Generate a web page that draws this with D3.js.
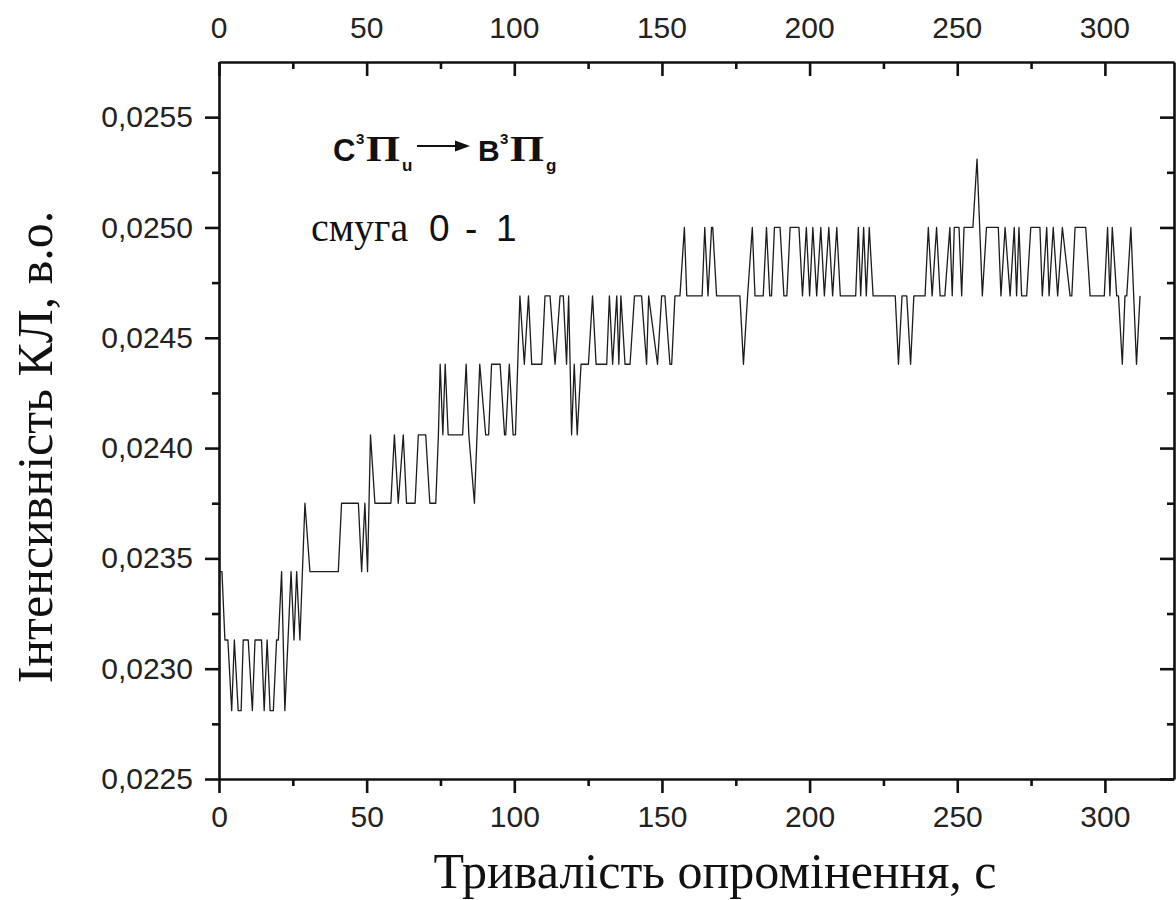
<!DOCTYPE html>
<html>
<head>
<meta charset="utf-8">
<script src="https://d3js.org/d3.v7.min.js"></script>
<style>
  body { margin: 0; background: #fff; }
  svg { display: block; }
</style>
</head>
<body>
<script>
// time points (s) where the trace changes
var timeSec = [
  0, 1, 2, 3, 4.3, 5.2, 6.5, 7.5, 8.2, 9.9, 11.3, 12.2, 14.4, 15.3, 16.3, 17.3, 18.4, 19.5, 20.1,
  21.2, 22.3, 24.4, 25.4, 26.3, 27.4, 29.1, 30.8, 40.4, 41.5, 47.2, 48.3, 49.4, 50.3, 51.3, 52.8,
  58.2, 59.4, 60.7, 62.4, 63.5, 66.4, 67.5, 70.0, 71.4, 73.4, 74.3, 74.9, 75.8, 76.6, 77.6, 82.5,
  83.7, 84.6, 86.5, 88.3, 90.3, 91.3, 92.3, 95.2, 96.7, 97.1, 98.3, 99.6, 100.4, 101.9, 103.4,
  104.8, 105.9, 109.3, 110.4, 112.1, 113.8, 115.5, 116.6, 117.7, 118.4, 119.4, 120.3, 121.3,
  122.6, 125.1, 126.5, 127.7, 131.3, 132.2, 133.3, 134.7, 135.4, 136.1, 137.5, 139.2, 140.7,
  143.1, 144.8, 145.5, 148.5, 149.9, 151.0, 152.7, 153.3, 154.4, 156.1, 157.6, 158.4, 163.6,
  164.5, 165.6, 166.8, 167.2, 168.5, 176.4, 177.6, 179.0, 180.6, 181.5, 184.3, 185.4, 186.5,
  187.1, 188.1, 190.0, 191.3, 192.3, 193.4, 196.4, 197.6, 198.9, 200.0, 201.1, 202.4, 203.8,
  205.0, 206.5, 207.8, 209.2, 210.4, 215.6, 216.5, 217.3, 218.3, 219.2, 220.2, 221.5, 229.0,
  230.1, 231.3, 232.9, 234.2, 235.3, 239.1, 240.2, 241.5, 243.0, 244.2, 245.8, 247.5, 248.3,
  249.0, 250.6, 251.5, 252.3, 255.3, 256.7, 258.5, 259.9, 263.9, 264.8, 266.2, 267.9, 269.3,
  270.1, 270.9, 271.8, 273.5, 274.9, 278.0, 278.8, 280.3, 281.1, 282.5, 284.0, 285.6, 288.2,
  288.8, 289.9, 293.5, 295.0, 299.8, 300.9, 301.7, 302.5, 304.0, 304.6, 305.9, 306.8, 307.4,
  308.8, 310.7, 311.9
];

// CL intensity (a.u.) at those points
var intensity = [
  0.02344, 0.02344, 0.02313, 0.02313, 0.02281, 0.02313, 0.02281, 0.02281, 0.02313, 0.02313,
  0.02281, 0.02313, 0.02313, 0.02281, 0.02313, 0.02281, 0.02281, 0.02313, 0.02313,
  0.02344, 0.02281, 0.02344, 0.02313, 0.02344, 0.02313, 0.02375, 0.02344, 0.02344, 0.02375,
  0.02375, 0.02344, 0.02375, 0.02344, 0.02406, 0.02375,
  0.02375, 0.02406, 0.02375, 0.02406, 0.02375, 0.02375, 0.02406, 0.02406, 0.02375, 0.02375,
  0.02406, 0.02438, 0.02406, 0.02438, 0.02406, 0.02406,
  0.02438, 0.02406, 0.02375, 0.02438, 0.02406, 0.02406, 0.02438, 0.02438, 0.02406, 0.02406,
  0.02438, 0.02406, 0.02406, 0.02469, 0.02438,
  0.02469, 0.02438, 0.02438, 0.02469, 0.02469, 0.02438, 0.02469, 0.02469, 0.02438, 0.02469,
  0.02406, 0.02438, 0.02406,
  0.02438, 0.02438, 0.02469, 0.02438, 0.02438, 0.02469, 0.02438, 0.02469, 0.02438, 0.02469,
  0.02438, 0.02438, 0.02469,
  0.02469, 0.02438, 0.02469, 0.02438, 0.02469, 0.02469, 0.02438, 0.02438, 0.02469, 0.02469,
  0.02500, 0.02469, 0.02469,
  0.02500, 0.02469, 0.02500, 0.02500, 0.02469, 0.02469, 0.02438, 0.02469, 0.02500, 0.02469,
  0.02469, 0.02500, 0.02469,
  0.02469, 0.02500, 0.02500, 0.02469, 0.02469, 0.02500, 0.02500, 0.02469, 0.02500, 0.02469,
  0.02500, 0.02469, 0.02500,
  0.02469, 0.02500, 0.02469, 0.02500, 0.02469, 0.02469, 0.02500, 0.02469, 0.02500, 0.02469,
  0.02500, 0.02469, 0.02469,
  0.02438, 0.02469, 0.02469, 0.02438, 0.02469, 0.02469, 0.02500, 0.02469, 0.02500, 0.02469,
  0.02469, 0.02500, 0.02469,
  0.02500, 0.02500, 0.02469, 0.02500, 0.02500, 0.02531, 0.02469, 0.02500, 0.02500, 0.02469,
  0.02500, 0.02469, 0.02500,
  0.02469, 0.02500, 0.02469, 0.02469, 0.02500, 0.02500, 0.02469, 0.02500, 0.02469, 0.02500,
  0.02469, 0.02500, 0.02469,
  0.02469, 0.02500, 0.02500, 0.02469, 0.02469, 0.02500, 0.02469, 0.02500, 0.02469, 0.02469,
  0.02438, 0.02469, 0.02469,
  0.02500, 0.02438, 0.02469
];

var xMajor = [0, 50, 100, 150, 200, 250, 300];
var xMinor = [25, 75, 125, 175, 225, 275];
var yMajor = [0.0225, 0.0230, 0.0235, 0.0240, 0.0245, 0.0250, 0.0255];
var yMinor = [0.02275, 0.02325, 0.02375, 0.02425, 0.02475, 0.02525];

var xTitle = "Тривалість опромінення, с";
var yTitle = "Інтенсивність КЛ, в.о.";

var W = 1176, H = 900;
var padL = 219, padR = 1174, padT = 62, padB = 779;

var svg = d3.select("body").append("svg")
  .attr("width", W)
  .attr("height", H);

var x = d3.scaleLinear().domain([0, 323.4]).range([padL, padR]);
var y = d3.scaleLinear().domain([0.0225, 0.02575]).range([padB, padT]);

var uk = d3.formatLocale({ decimal: ",", thousands: " ", grouping: [3], currency: ["", ""] });
var fmtY = uk.format(".4f");

var sans = "'Liberation Sans', Arial, sans-serif";
var serif = "'Liberation Serif', 'Times New Roman', serif";

// data trace
var pts = timeSec.map(function (t, i) { return { t: t, v: intensity[i] }; });
svg.append("path")
  .datum(pts)
  .attr("fill", "none")
  .attr("stroke", "#1c1c1c")
  .attr("stroke-width", 1.3)
  .attr("stroke-linejoin", "round")
  .attr("d", d3.line().x(function (d) { return x(d.t); }).y(function (d) { return y(d.v); }));

// axes: bottom/left ticks point out, top/right ticks point in
function styleAxis(g) {
  g.select(".domain").attr("stroke", "#111").attr("stroke-width", 2.6);
  g.selectAll(".tick line").attr("stroke", "#111").attr("stroke-width", 2.6);
  g.selectAll(".tick text").attr("fill", "#222")
    .style("font-family", sans).style("font-size", "30px");
}

function addAxis(axisFn, scale, major, minor, transform, labels, pad) {
  var gMin = svg.append("g").attr("transform", transform)
    .call(axisFn(scale).tickValues(minor).tickSize(7).tickFormat(""));
  styleAxis(gMin);
  gMin.select(".domain").remove();
  var gMaj = svg.append("g").attr("transform", transform)
    .call(axisFn(scale).tickValues(major).tickSize(14).tickSizeOuter(0)
      .tickPadding(pad).tickFormat(labels ? labels : ""));
  styleAxis(gMaj);
  return gMaj;
}

addAxis(d3.axisBottom, x, xMajor, xMinor, "translate(0," + padB + ")", d3.format("d"), 13);
addAxis(d3.axisLeft, y, yMajor, yMinor, "translate(" + padL + ",0)", fmtY, 12);

// top: inward ticks, labels above
addAxis(d3.axisBottom, x, xMajor, xMinor, "translate(0," + padT + ")", null, 0);
svg.append("g").selectAll("text").data(xMajor).enter().append("text")
  .attr("x", function (d) { return x(d); })
  .attr("y", padT - 24)
  .attr("text-anchor", "middle")
  .attr("fill", "#222")
  .style("font-family", sans).style("font-size", "30px")
  .text(function (d) { return d; });

// right: inward ticks
addAxis(d3.axisLeft, y, yMajor, yMinor, "translate(" + padR + ",0)", null, 0);

// axis titles
svg.append("text")
  .attr("x", 715)
  .attr("y", 888)
  .attr("text-anchor", "middle")
  .attr("fill", "#111")
  .style("font-family", serif).style("font-size", "50px")
  .text(xTitle);

svg.append("text")
  .attr("transform", "translate(52,447) rotate(-90)")
  .attr("text-anchor", "middle")
  .attr("fill", "#111")
  .style("font-family", serif).style("font-size", "50px")
  .text(yTitle);

// band annotation
var ann = svg.append("g").attr("fill", "#111");
function put(tx, ty, str, fam, size, weight, len) {
  var t = ann.append("text").attr("x", tx).attr("y", ty)
    .style("font-family", fam).style("font-size", size + "px")
    .style("font-weight", weight || "normal").text(str);
  if (len) t.attr("textLength", len).attr("lengthAdjust", "spacingAndGlyphs");
  return t;
}
put(333, 161, "C", sans, 31, "bold");
put(356, 144, "3", sans, 15, "bold");
put(366, 161, "\u03A0", serif, 36, "bold", 34);
put(402, 171, "u", sans, 17, "bold");
ann.append("line").attr("x1", 417).attr("y1", 146).attr("x2", 458).attr("y2", 146)
  .attr("stroke", "#111").attr("stroke-width", 2);
ann.append("path").attr("d", "M455,140.5 L470,146 L455,151.5 Z");
put(478, 161, "B", sans, 30, "bold");
put(500, 144, "3", sans, 15, "bold");
put(510, 161, "\u03A0", serif, 36, "bold", 34);
put(546, 171, "g", sans, 17, "bold");

put(311, 241, "смуга", serif, 40);
put(429, 241, "0", sans, 37);
put(465, 241, "-", sans, 37);
put(496, 241, "1", sans, 37);
</script>
</body>
</html>
